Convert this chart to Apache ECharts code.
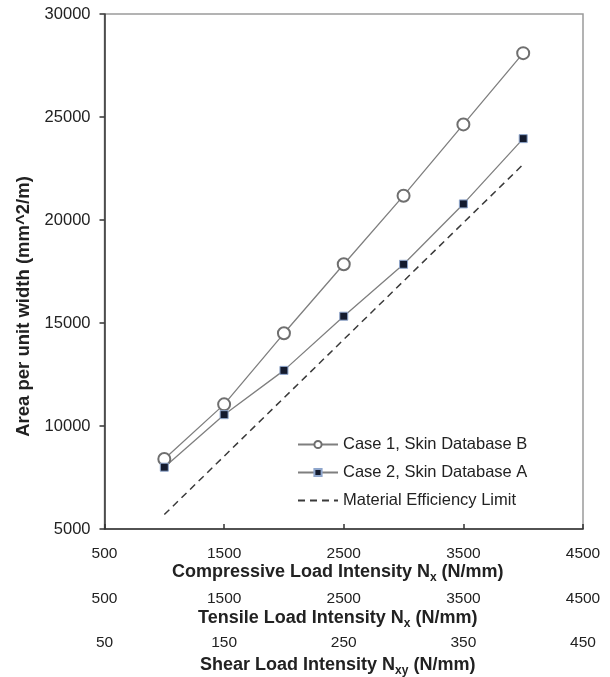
<!DOCTYPE html>
<html>
<head>
<meta charset="utf-8">
<script src="https://cdn.jsdelivr.net/npm/echarts@6/dist/echarts.min.js"></script>
<style>
  html, body { margin: 0; padding: 0; background: #fff; }
  #chart { width: 610px; height: 677px; }
</style>
</head>
<body>
<div id="chart"></div>
<script>
// load intensity (N/mm), compressive axis
var loads = [1000, 1500, 2000, 2500, 3000, 3500, 4000];
var case1 = [8400, 11050, 14500, 17850, 21180, 24640, 28100];
var case2 = [8000, 10550, 12700, 15330, 17850, 20780, 23950];
// material efficiency limit, end points
var limitX = [1000, 4000];
var limitY = [5700, 22700];

var seriesNames = ['Case 1, Skin Database B', 'Case 2, Skin Database A', 'Material Efficiency Limit'];

function pairs(xs, ys) {
    var out = [];
    for (var i = 0; i < xs.length; i++) {
        out.push([xs[i], ys[i]]);
    }
    return out;
}

var font = 'Liberation Sans, Arial, sans-serif';
var txt = '#222';

function plain(v) { return String(v); }

var titleRich = {
    s: { fontSize: 12, fontWeight: 'bold', fontFamily: font, color: txt, verticalAlign: 'bottom', lineHeight: 12 }
};
function nameStyle() {
    return {
        fontSize: 18, fontWeight: 'bold', fontFamily: font, color: txt,
        lineHeight: 24, rich: titleRich,
        padding: [0, 12, 0, 0]
    };
}
function tickLabel() {
    return { fontSize: 15.5, fontFamily: font, color: txt, margin: 17, formatter: plain };
}

var myChart = echarts.init(document.getElementById('chart'));
var option = {
    animation: false,
    backgroundColor: '#fff',
    grid: {
        left: 104.5, right: 27, top: 14, bottom: 148,
        outerBoundsMode: 'none',
        show: true, borderColor: '#9a9a9a', borderWidth: 1.5
    },
    legend: {
        orient: 'vertical',
        left: 297, top: 436, padding: 0,
        itemWidth: 40, itemHeight: 9, itemGap: 11,
        textStyle: { fontSize: 16.5, fontFamily: font, color: txt },
        data: [
            seriesNames[0],
            seriesNames[1],
            { name: seriesNames[2], itemStyle: { opacity: 0 } }
        ]
    },
    xAxis: [
        {
            type: 'value', position: 'bottom',
            min: 500, max: 4500, interval: 1000,
            axisLine: { lineStyle: { color: '#333', width: 1.5 } },
            axisTick: { inside: true, length: 5, lineStyle: { color: '#333', width: 1.5 } },
            axisLabel: tickLabel(),
            splitLine: { show: false },
            name: 'Compressive Load Intensity N{s|x} (N/mm)',
            nameLocation: 'middle', nameGap: 31, nameMoveOverlap: false,
            nameTextStyle: nameStyle()
        },
        {
            type: 'value', position: 'bottom', offset: 45,
            min: 500, max: 4500, interval: 1000,
            axisLine: { show: false },
            axisTick: { show: false },
            axisLabel: tickLabel(),
            splitLine: { show: false },
            name: 'Tensile Load Intensity N{s|x} (N/mm)',
            nameLocation: 'middle', nameGap: 32, nameMoveOverlap: false,
            nameTextStyle: nameStyle()
        },
        {
            type: 'value', position: 'bottom', offset: 89,
            min: 50, max: 450, interval: 100,
            axisLine: { show: false },
            axisTick: { show: false },
            axisLabel: tickLabel(),
            splitLine: { show: false },
            name: 'Shear Load Intensity N{s|xy} (N/mm)',
            nameLocation: 'middle', nameGap: 35, nameMoveOverlap: false,
            nameTextStyle: nameStyle()
        }
    ],
    yAxis: {
        type: 'value',
        min: 5000, max: 30000, interval: 5000,
        axisLine: { show: true, lineStyle: { color: '#333', width: 1.5 } },
        axisTick: { show: true, length: 5, lineStyle: { color: '#333', width: 1.5 } },
        axisLabel: { fontSize: 16.5, fontFamily: font, color: txt, margin: 14, formatter: plain },
        splitLine: { show: false },
        name: 'Area per unit width (mm^2/m)',
        nameLocation: 'middle', nameGap: 71, nameMoveOverlap: false,
        nameTextStyle: {
            fontSize: 18.5, fontWeight: 'bold', fontFamily: font, color: txt,
            padding: [0, 70, 0, 0]
        }
    },
    series: [
        {
            name: seriesNames[0], type: 'line', xAxisIndex: 0,
            data: pairs(loads, case1),
            symbol: 'emptyCircle', symbolSize: 12,
            lineStyle: { color: '#7f7f7f', width: 1.3 },
            itemStyle: { color: '#6f6f6f', borderWidth: 1.3 }
        },
        {
            name: seriesNames[1], type: 'line', xAxisIndex: 0,
            data: pairs(loads, case2),
            symbol: 'rect', symbolSize: 8,
            lineStyle: { color: '#7f7f7f', width: 1.3 },
            itemStyle: { color: '#141b2e', borderColor: '#8fa6cc', borderWidth: 1 }
        },
        {
            name: seriesNames[2], type: 'line', xAxisIndex: 0,
            data: pairs(limitX, limitY),
            symbol: 'none',
            lineStyle: { color: '#3a3a3a', width: 1.5, type: [7, 5] },
            itemStyle: { color: '#3a3a3a' }
        }
    ]
};
myChart.setOption(option);
</script>
</body>
</html>
